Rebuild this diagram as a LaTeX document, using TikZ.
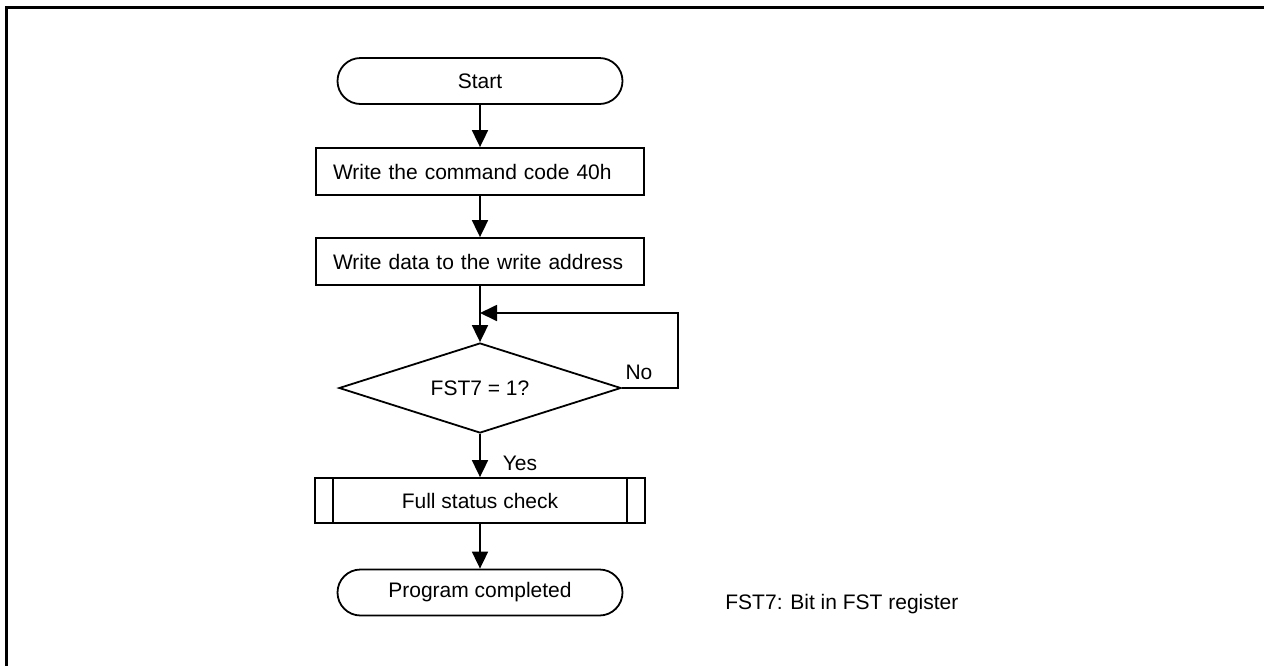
\documentclass[tikz,border=0pt]{standalone}
\usepackage{fontspec}
\setmainfont{Liberation Sans}
\usetikzlibrary{shapes.geometric, arrows.meta, positioning}

\begin{document}
\begin{tikzpicture}[x=0.5pt, y=-0.5pt,
  every node/.style={font=\fontsize{10.5}{12}\selectfont, inner sep=0pt},
  terminal/.style={draw, line width=0.9pt, rounded corners=11.5pt,
    minimum width=142.5pt, minimum height=23pt},
  procbox/.style={draw, line width=0.9pt, inner xsep=8.5pt, text width=147pt,
    align=left, minimum height=23.5pt},
  subproc/.style={draw, line width=0.9pt, minimum width=165pt, minimum height=22.5pt},
  decision/.style={draw, line width=0.9pt, diamond, aspect=3.1,
    minimum width=141pt, minimum height=45pt},
  flow/.style={line width=0.9pt, -{Triangle[length=8.5pt, width=8pt]}}]
  \useasboundingbox (0,0) rectangle (1264,665);
  \clip (0,0) rectangle (1264,665);

  % Rahmen
  \draw[line width=1.5pt] (6.5,700) -- (6.5,7.5) -- (1300,7.5);

  % Ablauf
  \node[terminal] (start) at (480,81) {Start};
  \node[procbox] (cmd) at (480,171.5) {Write the command code 40h};
  \node[procbox] (data) at (480,261.5) {Write data to the write address};
  \node[decision] (fst) at (480,388) {FST7 = 1?};
  \node[subproc] (check) at (480,500.5) {Full status check};
  \node[terminal] (done) at (480,592.5) {Program completed};

  \draw[line width=0.9pt] ([xshift=9.5pt]check.north west) -- ([xshift=9.5pt]check.south west)
    ([xshift=-9.5pt]check.north east) -- ([xshift=-9.5pt]check.south east);

  \draw[flow] (start) -- (cmd);
  \draw[flow] (cmd) -- (data);
  \draw[flow] (data) -- (fst);
  \draw[flow] (fst) -- (check);
  \draw[flow] (check) -- (done);

  % Schleife
  \coordinate (loop) at (678,313);
  \draw[flow] (fst.east) -| (loop) -- (fst.north |- loop);

  \node (no) at (639,372) {No};
  \node (yes) at (520,463) {Yes};
  \node[anchor=west] (note) at (725,604) {FST7: Bit in FST register};
\end{tikzpicture}
\end{document}
